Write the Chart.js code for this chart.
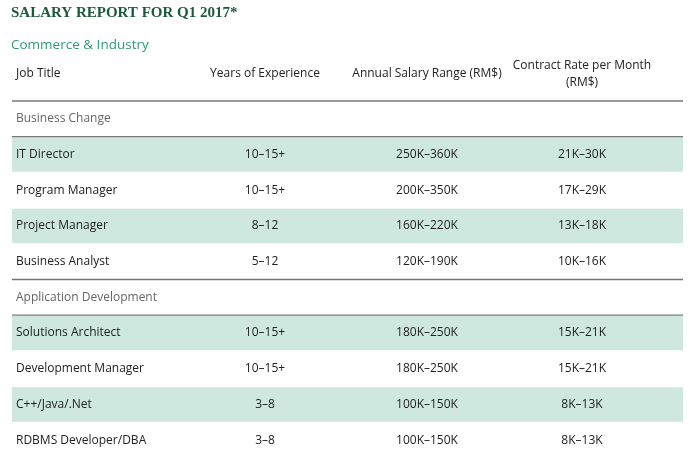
<!DOCTYPE html>
<html>
<head>
<meta charset="utf-8">
<script src="https://cdn.jsdelivr.net/npm/chart.js@4"></script>
<style>
  body { margin: 0; background: #fff; }
  #wrap { width: 700px; height: 463px; }
</style>
</head>
<body>
<div id="wrap"><canvas id="chart"></canvas></div>
<script>
// table data
const rowLabels = ['Business Change', 'IT Director', 'Program Manager', 'Project Manager', 'Business Analyst',
  'Application Development', 'Solutions Architect', 'Development Manager', 'C++/Java/.Net', 'RDBMS Developer/DBA'];
const sectionRows = [true, false, false, false, false, true, false, false, false, false];
const shadedRows = [false, true, false, true, false, false, true, false, true, false];
const years = ['', '10–15+', '10–15+', '8–12', '5–12', '', '10–15+', '10–15+', '3–8', '3–8'];
const salary = ['', '250K–360K', '200K–350K', '160K–220K', '120K–190K', '', '180K–250K', '180K–250K', '100K–150K', '100K–150K'];
const contract = ['', '21K–30K', '17K–29K', '13K–18K', '10K–16K', '', '15K–21K', '15K–21K', '8K–13K', '8K–13K'];
const headers = ['Job Title', 'Years of Experience', 'Annual Salary Range (RM$)', 'Contract Rate per Month'];

const FONT = '"Open Sans", sans-serif';

// draw the table texts and rules on top of the bands
const tablePlugin = {
  id: 'tableText',
  afterDatasetsDraw(chart) {
    const ctx = chart.ctx, x = chart.scales.x, y = chart.scales.y;
    const area = chart.chartArea;
    const rowH = (area.bottom - area.top) / rowLabels.length;
    ctx.save();
    ctx.textBaseline = 'middle';

    // title and subtitle
    ctx.fillStyle = '#1d5a3c';
    ctx.font = 'bold 15px "Liberation Serif", serif';
    ctx.textAlign = 'left';
    ctx.fillText('SALARY REPORT FOR Q1 2017*', 11, 13);
    ctx.fillStyle = '#2f9a78';
    ctx.font = '13.5px ' + FONT;
    ctx.fillText('Commerce & Industry', 11, 45);

    // headers
    ctx.fillStyle = '#222';
    ctx.font = '12px ' + FONT;
    ctx.fillText(headers[0], 16, 74);
    ctx.textAlign = 'center';
    ctx.fillText(headers[1], x.getPixelForValue(265), 74);
    ctx.fillText(headers[2], x.getPixelForValue(427), 74);
    ctx.fillText(headers[3], x.getPixelForValue(582), 66);
    ctx.fillText('(RM$)', x.getPixelForValue(582), 83);

    // rules
    ctx.strokeStyle = '#777';
    ctx.lineWidth = 1.3;
    const rule = yy => { ctx.beginPath(); ctx.moveTo(area.left, yy); ctx.lineTo(area.right, yy); ctx.stroke(); };
    rowLabels.forEach((l, i) => {
      if (sectionRows[i]) {
        const c = y.getPixelForValue(i);
        rule(c - rowH / 2);
        rule(c + rowH / 2);
      }
    });

    // rows
    rowLabels.forEach((l, i) => {
      const c = y.getPixelForValue(i);
      ctx.textAlign = 'left';
      ctx.fillStyle = sectionRows[i] ? '#666' : '#222';
      ctx.font = '12px ' + FONT;
      ctx.fillText(l, 16, c);
      ctx.textAlign = 'center';
      ctx.fillStyle = '#222';
      ctx.fillText(years[i], x.getPixelForValue(265), c);
      ctx.fillText(salary[i], x.getPixelForValue(427), c);
      ctx.fillText(contract[i], x.getPixelForValue(582), c);
    });
    ctx.restore();
  }
};

new Chart(document.getElementById('chart'), {
  type: 'bar',
  data: {
    labels: rowLabels,
    datasets: [{
      data: shadedRows.map(s => s ? [12, 683] : null),
      backgroundColor: '#cfe8df',
      barPercentage: 0.97,
      categoryPercentage: 1
    }]
  },
  options: {
    indexAxis: 'y',
    responsive: true,
    maintainAspectRatio: false,
    animation: false,
    layout: { padding: { left: 12, right: 17, top: 101, bottom: 5 } },
    plugins: { legend: { display: false }, tooltip: { enabled: false } },
    scales: {
      x: { type: 'linear', min: 12, max: 683, display: false },
      y: { display: false }
    }
  },
  plugins: [tablePlugin]
});
</script>
</body>
</html>
